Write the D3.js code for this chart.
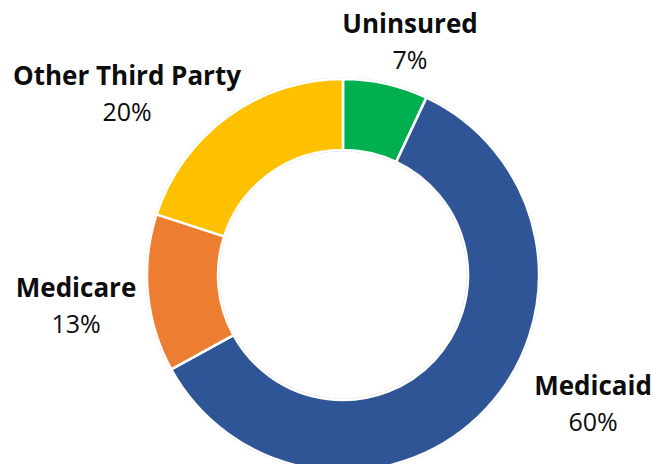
<!DOCTYPE html>
<html>
<head>
<meta charset="utf-8">
<script src="https://cdn.jsdelivr.net/npm/d3@7"></script>
<style>
  html, body { margin: 0; padding: 0; background: #fff; }
  svg { display: block; font-family: "Open Sans", sans-serif; }
</style>
</head>
<body>
<svg id="chart" width="656" height="464"></svg>
<script>
// data, clockwise from 12 o'clock
let categories = ['Uninsured', 'Medicaid', 'Medicare', 'Other Third Party'];
let shares = [7, 60, 13, 20];
let colors = ['#00B050', '#2F5597', '#ED7D31', '#FFC000'];

let w = 656, h = 464;
let cx = 343, cy = 275;
let outerR = 196, innerR = 125;

// label anchors (center of the two-line label), by category
let labelSpot = {
    'Uninsured': [410, 24],
    'Medicaid': [593, 386],
    'Medicare': [76, 288],
    'Other Third Party': [127, 76]
};

let svg = d3.select('#chart');
let g = svg.append('g').attr('transform', `translate(${cx},${cy})`);

let data = categories.map((c, i) => ({ name: c, value: shares[i], color: colors[i] }));

let pie = d3.pie().sort(null).value(d => d.value);
let arc = d3.arc().innerRadius(innerR).outerRadius(outerR);

// faint grey rim round the ring
g.append('circle').attr('r', outerR + 1).attr('fill', 'none').attr('stroke', '#d9d9d9').attr('stroke-width', 1);
g.append('circle').attr('r', innerR - 1).attr('fill', 'none').attr('stroke', '#d9d9d9').attr('stroke-width', 1);

g.selectAll('path')
    .data(pie(data))
    .enter().append('path')
    .attr('d', arc)
    .attr('fill', d => d.data.color)
    .attr('stroke', '#fff')
    .attr('stroke-width', 2.5)
    .attr('stroke-linejoin', 'round');

let labels = svg.selectAll('g.lbl')
    .data(data)
    .enter().append('g')
    .attr('class', 'lbl')
    .attr('transform', d => `translate(${labelSpot[d.name][0]},${labelSpot[d.name][1]})`);

labels.append('text')
    .attr('text-anchor', 'middle')
    .attr('y', 9)
    .attr('font-size', 26)
    .attr('font-weight', 700)
    .attr('fill', '#0d0d0d')
    .text(d => d.name);

labels.append('text')
    .attr('text-anchor', 'middle')
    .attr('y', 45)
    .attr('font-size', 25)
    .attr('fill', '#0d0d0d')
    .text(d => d.value + '%');
</script>
</body>
</html>
